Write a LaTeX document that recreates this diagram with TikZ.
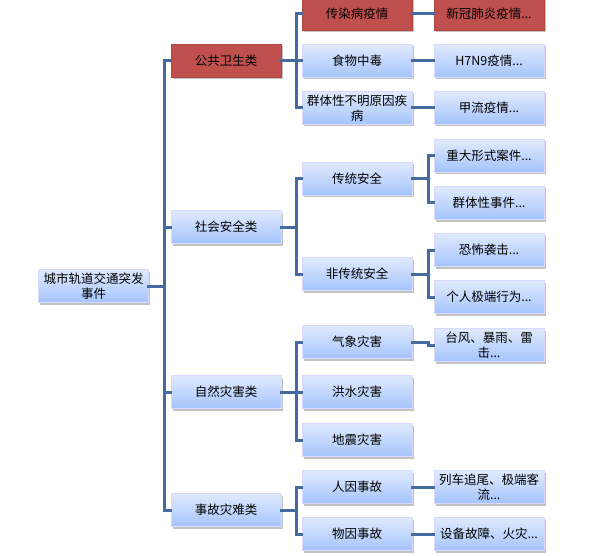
\documentclass[tikz,border=0pt]{standalone}
\usepackage{fontspec}
\setmainfont{Noto Sans CJK SC}
\usetikzlibrary{shadows}
\definecolor{linec}{RGB}{68,106,160}
\definecolor{redbox}{RGB}{192,80,77}
\definecolor{btop}{RGB}{224,234,253}
\definecolor{bbot}{RGB}{164,196,252}
\tikzset{
  boxbase/.style={minimum width=110pt, minimum height=33pt, inner sep=1pt, align=center,
    font=\fontsize{12.5}{15}\selectfont, text=black,
    drop shadow={shadow xshift=1.5pt, shadow yshift=-2pt, fill=black!40, opacity=0.6}},
  bluebox/.style={boxbase, top color=btop, bottom color=bbot, draw=white!85!blue, line width=0.4pt},
  rbox/.style={boxbase, fill=redbox, draw=redbox!90!black, line width=0.4pt},
  conn/.style={draw=linec, line width=3pt, line cap=rect}
}
\begin{document}
\begin{tikzpicture}[x=1pt,y=-1pt]
\useasboundingbox (0,0) rectangle (594,556);
% root
\node[bluebox] (root) at (93.5,286) {城市轨道交通突发\\事件};
% level 1
\node[rbox] (a1) at (226,61) {公共卫生类};
\node[bluebox] (a2) at (226,227) {社会安全类};
\node[bluebox] (a3) at (226,392) {自然灾害类};
\node[bluebox] (a4) at (226,510) {事故灾难类};
% level 2
\node[rbox] (b1) at (357,14) {传染病疫情};
\node[bluebox] (b2) at (357,61) {食物中毒};
\node[bluebox] (b3) at (357,108) {群体性不明原因疾\\病};
\node[bluebox] (b4) at (357,179) {传统安全};
\node[bluebox] (b5) at (357,274) {非传统安全};
\node[bluebox] (b6) at (357,342) {气象灾害};
\node[bluebox] (b7) at (357,392) {洪水灾害};
\node[bluebox] (b8) at (357,440) {地震灾害};
\node[bluebox] (b9) at (357,487) {人因事故};
\node[bluebox] (b10) at (357,534) {物因事故};
% level 3
\node[rbox] (c1) at (489,14) {新冠肺炎疫情...};
\node[bluebox] (c2) at (489,61) {H7N9疫情...};
\node[bluebox] (c3) at (489,108) {甲流疫情...};
\node[bluebox] (c4) at (489,156) {重大形式案件...};
\node[bluebox] (c5) at (489,203) {群体性事件...};
\node[bluebox] (c6) at (489,250) {恐怖袭击...};
\node[bluebox] (c7) at (489,297) {个人极端行为...};
\node[bluebox] (c8) at (489,345) {台风、暴雨、雷\\击...};
\node[bluebox] (c9) at (489,487) {列车追尾、极端客\\流...};
\node[bluebox] (c10) at (489,534) {设备故障、火灾...};
% connectors root -> level1
\coordinate (t0) at (164,0);
\path[conn] (root.east) -- (root.east -| t0);
\path[conn] (a1.west) -- (a1.west -| t0) -- (a4.west -| t0) -- (a4.west);
\path[conn] (a2.west -| t0) -- (a2.west);
\path[conn] (a3.west -| t0) -- (a3.west);
% level1 -> level2
\coordinate (t1) at (296,0);
\path[conn] (a1.east) -- (a1.east -| t1);
\path[conn] (b1.west) -- (b1.west -| t1) -- (b3.west -| t1) -- (b3.west);
\path[conn] (b2.west -| t1) -- (b2.west);
\path[conn] (a2.east) -- (a2.east -| t1);
\path[conn] (b4.west) -- (b4.west -| t1) -- (b5.west -| t1) -- (b5.west);
\path[conn] (a3.east) -- (a3.east -| t1);
\path[conn] (b6.west) -- (b6.west -| t1) -- (b8.west -| t1) -- (b8.west);
\path[conn] (b7.west -| t1) -- (b7.west);
\path[conn] (a4.east) -- (a4.east -| t1);
\path[conn] (b9.west) -- (b9.west -| t1) -- (b10.west -| t1) -- (b10.west);
% level2 -> level3
\coordinate (t2) at (428,0);
\path[conn] (b1.east) -- (c1.west);
\path[conn] (b2.east) -- (c2.west);
\path[conn] (b3.east) -- (c3.west);
\path[conn] (b4.east) -- (b4.east -| t2);
\path[conn] (c4.west) -- (c4.west -| t2) -- (c5.west -| t2) -- (c5.west);
\path[conn] (b5.east) -- (b5.east -| t2);
\path[conn] (c6.west) -- (c6.west -| t2) -- (c7.west -| t2) -- (c7.west);
\path[conn] (b6.east) -- (b6.east -| t2) -- (c8.west -| t2) -- (c8.west);
\path[conn] (b9.east) -- (c9.west);
\path[conn] (b10.east) -- (c10.west);
\end{tikzpicture}
\end{document}
